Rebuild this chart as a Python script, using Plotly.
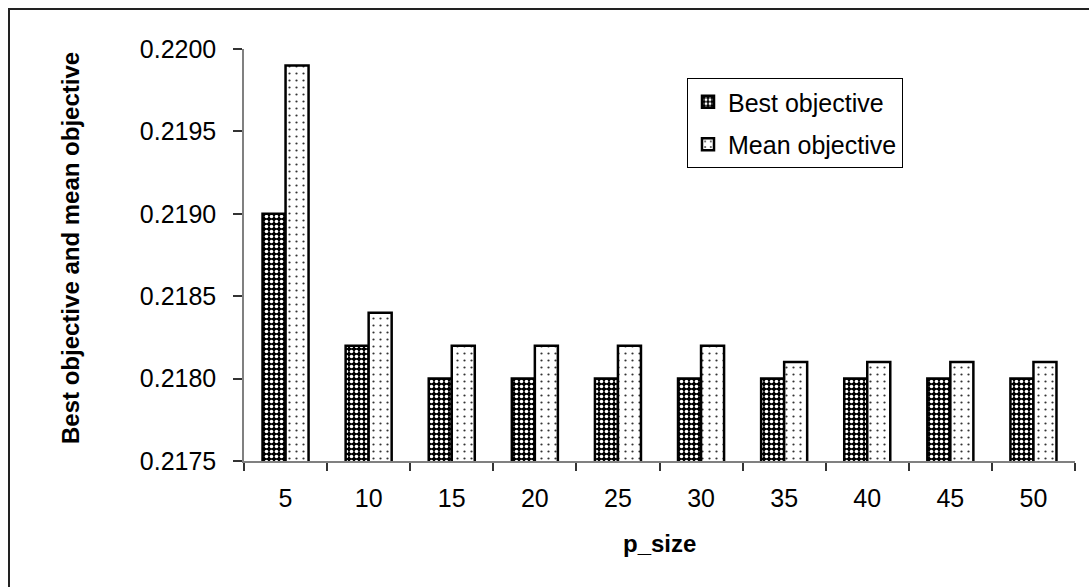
import plotly.graph_objects as go

# Population size settings and the objective values obtained for each
p_size = ["5", "10", "15", "20", "25", "30", "35", "40", "45", "50"]
best_objective = [0.2190, 0.2182, 0.2180, 0.2180, 0.2180, 0.2180, 0.2180, 0.2180, 0.2180, 0.2180]
mean_objective = [0.2199, 0.2184, 0.2182, 0.2182, 0.2182, 0.2182, 0.2181, 0.2181, 0.2181, 0.2181]

y_ticks = [0.2175, 0.2180, 0.2185, 0.2190, 0.2195, 0.2200]

FONT = "Liberation Sans, Arial, sans-serif"
FS = 25

fig = go.Figure()
fig.add_trace(go.Bar(
    name="Best objective", x=p_size, y=best_objective, legendgroup="best",
    marker=dict(color="white", line=dict(color="black", width=2.5),
                pattern=dict(shape=".", bgcolor="black", fgcolor="white",
                             size=5, solidity=0.4, fillmode="replace")),
))
fig.add_trace(go.Bar(
    name="Mean objective", x=p_size, y=mean_objective, legendgroup="mean",
    marker=dict(color="white", line=dict(color="black", width=2.5),
                pattern=dict(shape=".", bgcolor="white", fgcolor="#333333",
                             size=7, solidity=0.08, fillmode="replace")),
))

W, H = 1089, 587
L, R, T, B = 244, 14, 49, 126
pw, ph = W - L - R, H - T - B


def px(x):
    return (x - L) / pw


def py(y):
    return (H - B - y) / ph


fig.update_layout(
    width=W, height=H,
    margin=dict(l=L, r=R, t=T, b=B, autoexpand=False),
    paper_bgcolor="white", plot_bgcolor="white",
    barmode="group", bargap=0.446, bargroupgap=0,
    font=dict(family=FONT, size=FS, color="black"),
    showlegend=True,
    legend=dict(
        x=px(687), y=py(78), xanchor="left", yanchor="top",
        bgcolor="white", bordercolor="black", borderwidth=1,
        font=dict(family=FONT, size=FS, color="black"),
        tracegroupgap=7, traceorder="grouped",
    ),
    xaxis=dict(
        type="category", showgrid=False, zeroline=False,
        showline=True, linecolor="#808080", linewidth=1.5,
        ticks="outside", tickson="boundaries", ticklen=8, tickcolor="#333333",
        tickwidth=1.5, ticklabelstandoff=14,
        tickfont=dict(family=FONT, size=FS, color="black"),
    ),
    yaxis=dict(
        range=[0.2175, 0.2200], tickvals=y_ticks, tickformat=".4f",
        showgrid=False, zeroline=False,
        showline=True, linecolor="#808080", linewidth=1.5,
        ticks="outside", ticklen=9, tickcolor="#333333", tickwidth=1.5,
        ticklabelstandoff=12,
        tickfont=dict(family=FONT, size=FS, color="black"),
    ),
    annotations=[
        dict(text="<b>Best objective and mean objective</b>", textangle=-90,
             xref="paper", yref="paper", x=px(70), y=py(248),
             xanchor="center", yanchor="middle", showarrow=False,
             font=dict(family=FONT, size=24, color="black")),
        dict(text="<b>p_size</b>",
             xref="paper", yref="paper", x=px(659), y=py(543),
             xanchor="center", yanchor="middle", showarrow=False,
             font=dict(family=FONT, size=24, color="black")),
    ],
    shapes=[
        dict(type="rect", xref="paper", yref="paper",
             x0=px(9), y0=py(620), x1=px(1120), y1=py(9),
             line=dict(color="#222222", width=2), fillcolor="rgba(0,0,0,0)",
             layer="below"),
    ],
)

fig.write_html("out.html")
